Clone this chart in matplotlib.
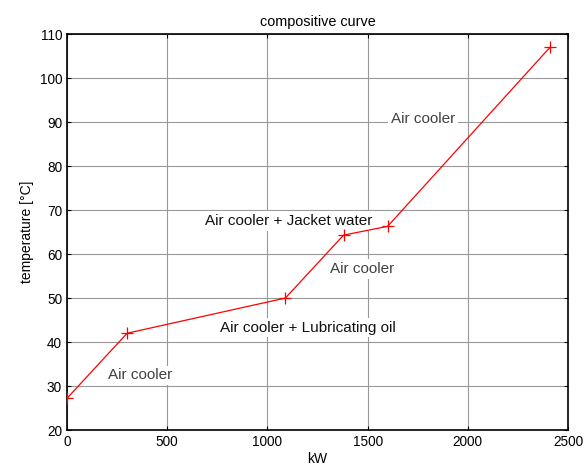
import numpy as np
import matplotlib.pyplot as plt

plt.rcParams['font.family'] = ['Liberation Sans', 'DejaVu Sans']

# heat load (kW) vs temperature along the composite curve
power = [0, 300, 1090, 1380, 1600, 2410]
temperature = [27.2, 42, 50, 64.3, 66.3, 107]

labels = ['Air cooler', 'Air cooler + Lubricating oil', 'Air cooler',
          'Air cooler + Jacket water', 'Air cooler']
label_x = [205, 765, 1310, 690, 1618]
label_y = [32.4, 43.3, 56.6, 67.5, 90.8]
label_colors = ['#404040', '#111111', '#404040', '#111111', '#404040']

fig = plt.figure(figsize=(5.86, 4.73), dpi=100)
ax = fig.add_axes([0.1143, 0.0909, 0.855, 0.837])

ax.plot(power, temperature, color='red', linewidth=0.9, marker='+',
        markersize=9, markeredgewidth=0.9, zorder=3)

for txt, x, y, c in zip(labels, label_x, label_y, label_colors):
    ax.text(x, y, txt, fontsize=11, color=c, va='center', ha='left',
            bbox=dict(facecolor='white', edgecolor='none', pad=2), zorder=2)

ax.set_xlim(0, 2500)
ax.set_ylim(20, 110)
ax.set_xticks(np.arange(0, 2501, 500))
ax.set_yticks(np.arange(20, 111, 10))
ax.grid(True, color='#999999', linewidth=0.8, zorder=0)
ax.set_axisbelow(True)
ax.tick_params(direction='in', top=True, right=True, length=3,
               labelsize=9.8, width=0.8)
for s in ax.spines.values():
    s.set_linewidth(1.2)

ax.set_xlabel('kW', fontsize=10, labelpad=2)
ax.set_ylabel('temperature [°C]', fontsize=10, labelpad=4)
ax.set_title('compositive curve', fontsize=10.4, pad=6)

fig.savefig('out.png', dpi=100)
